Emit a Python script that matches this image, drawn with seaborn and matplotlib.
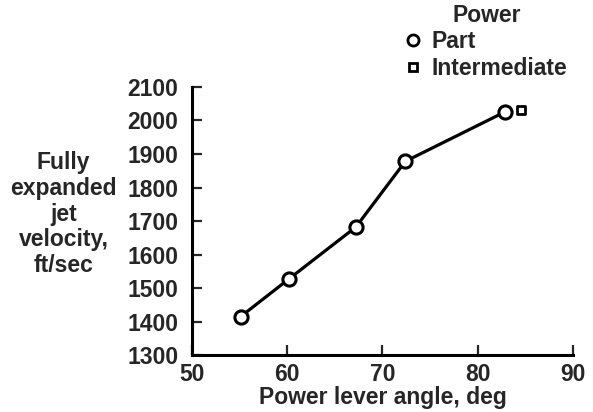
import matplotlib
matplotlib.use("Agg")
import matplotlib.pyplot as plt
import seaborn as sns
import pandas as pd
from matplotlib.lines import Line2D

part_angle = [55.1, 60.2, 67.2, 72.4, 82.9]
part_velocity = [1415, 1528, 1682, 1878, 2026]
inter_angle = [84.6]
inter_velocity = [2032]
x_ticks = [50, 60, 70, 80, 90]
y_ticks = [1300, 1400, 1500, 1600, 1700, 1800, 1900, 2000, 2100]

sns.set_theme(style="ticks")
plt.rcParams['font.family'] = ['Liberation Sans', 'DejaVu Sans']
plt.rcParams['font.weight'] = 'bold'

FS = 16.5

fig = plt.figure(figsize=(5.93, 4.12), dpi=100)
ax = fig.add_axes([0.324, 0.138, 0.642, 0.651])

df_part = pd.DataFrame({"angle": part_angle, "vel": part_velocity})
df_int = pd.DataFrame({"angle": inter_angle, "vel": inter_velocity})

sns.lineplot(data=df_part, x="angle", y="vel", ax=ax, color="black", lw=2.3,
             marker="o", markersize=9.5, markerfacecolor="white",
             markeredgecolor="black", markeredgewidth=2.2, zorder=3)
sns.scatterplot(data=df_int, x="angle", y="vel", ax=ax, marker="s", s=40,
                facecolor="white", edgecolor="black", linewidth=2.0, zorder=4)

ax.set_xlim(50, 90)
ax.set_ylim(1300, 2100)
ax.set_xticks(x_ticks)
ax.set_yticks(y_ticks)
ax.tick_params(direction="in", length=7, width=1.6, labelsize=FS)
ax.tick_params(axis="y", pad=10)
ax.tick_params(axis="x", pad=6)
for lab in ax.get_xticklabels() + ax.get_yticklabels():
    lab.set_fontweight("bold")
for s in ["top", "right"]:
    ax.spines[s].set_visible(False)
for s in ["left", "bottom"]:
    ax.spines[s].set_linewidth(2.2)
    ax.spines[s].set_color("black")

ax.set_xlabel("Power lever angle, deg", fontsize=FS, fontweight="bold", labelpad=0)
ax.set_ylabel("")
fig.text(0.107, 0.48, "Fully\nexpanded\njet\nvelocity,\nft/sec", ha="center", va="center",
         fontsize=FS, fontweight="bold", linespacing=1.15)

handles = [
    Line2D([], [], ls="none", marker="o", markersize=8, markerfacecolor="white",
           markeredgecolor="black", markeredgewidth=2),
    Line2D([], [], ls="none", marker="s", markersize=6, markerfacecolor="white",
           markeredgecolor="black", markeredgewidth=2),
]
leg = fig.legend(handles, ["Part", "Intermediate"], title="Power", frameon=False,
                 loc="upper left", bbox_to_anchor=(0.658, 1.03), fontsize=FS,
                 title_fontsize=FS, handlelength=0.6, handletextpad=0.5,
                 labelspacing=0.15, borderpad=0.2)
for t in leg.get_texts():
    t.set_fontweight("bold")
leg.get_title().set_fontweight("bold")

fig.savefig("out.png", dpi=100)
